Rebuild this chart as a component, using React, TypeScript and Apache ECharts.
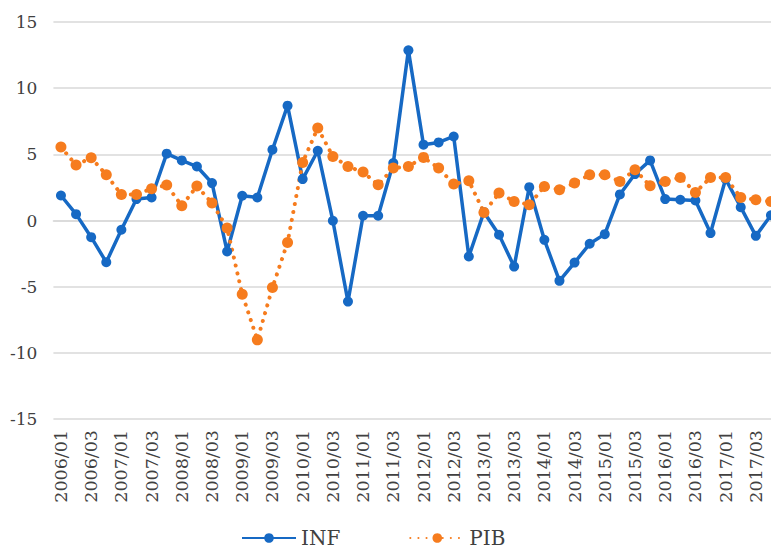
import React, { useEffect, useRef } from "react";
import * as echarts from "echarts";

const categories: string[] = [
  "2006/01", "2006/02", "2006/03", "2006/04",
  "2007/01", "2007/02", "2007/03", "2007/04",
  "2008/01", "2008/02", "2008/03", "2008/04",
  "2009/01", "2009/02", "2009/03", "2009/04",
  "2010/01", "2010/02", "2010/03", "2010/04",
  "2011/01", "2011/02", "2011/03", "2011/04",
  "2012/01", "2012/02", "2012/03", "2012/04",
  "2013/01", "2013/02", "2013/03", "2013/04",
  "2014/01", "2014/02", "2014/03", "2014/04",
  "2015/01", "2015/02", "2015/03", "2015/04",
  "2016/01", "2016/02", "2016/03", "2016/04",
  "2017/01", "2017/02", "2017/03", "2017/04",
];

const infValues: number[] = [
  1.89, 0.48, -1.26, -3.15, -0.7, 1.62, 1.74, 5.05, 4.54, 4.08, 2.83, -2.34,
  1.87, 1.74, 5.35, 8.68, 3.13, 5.27, -0.02, -6.13, 0.36, 0.36, 4.34, 12.86,
  5.73, 5.9, 6.35, -2.72, 0.63, -1.08, -3.48, 2.52, -1.46, -4.56, -3.18, -1.76,
  -1.03, 1.97, 3.51, 4.54, 1.62, 1.57, 1.51, -0.95, 3.13, 1.01, -1.16, 0.4,
];

const pibValues: number[] = [
  5.55, 4.19, 4.74, 3.46, 1.97, 1.97, 2.4, 2.68, 1.11, 2.6, 1.32, -0.57,
  -5.57, -9.02, -5.07, -1.66, 4.39, 6.99, 4.84, 4.08, 3.66, 2.7, 3.96, 4.08,
  4.77, 3.96, 2.75, 3.0, 0.61, 2.07, 1.44, 1.19, 2.57, 2.32, 2.83, 3.46,
  3.46, 2.95, 3.83, 2.62, 2.95, 3.25, 2.12, 3.25, 3.25, 1.74, 1.57, 1.44,
];

const seriesNames: string[] = ["INF", "PIB"];

const CHART_W = 790;
const CHART_H = 552;

export default function App() {
  const ref = useRef<HTMLDivElement>(null);

  useEffect(() => {
    if (!ref.current) return;
    const chart = echarts.init(ref.current, undefined, { renderer: "svg" });
    const font = "DejaVu Serif";
    chart.setOption({
      animation: false,
      backgroundColor: "#ffffff",
      textStyle: { fontFamily: font },
      grid: {
        left: 53.4,
        right: CHART_W - 778.5,
        top: 22,
        bottom: CHART_H - 419,
        containLabel: false,
      },
      legend: {
        data: seriesNames,
        left: 236,
        top: 522,
        itemWidth: 54,
        itemHeight: 12,
        itemGap: 69,
        textStyle: {
          fontFamily: font,
          fontSize: 20,
          lineHeight: 22,
          color: "#404040",
        },
      },
      xAxis: {
        type: "category",
        data: categories,
        boundaryGap: true,
        axisTick: { show: false },
        axisLine: { show: true, lineStyle: { color: "#d9d9d9", width: 1.5 } },
        axisLabel: {
          interval: 1,
          rotate: 90,
          margin: 11,
          fontFamily: font,
          fontSize: 17.5,
          color: "#404040",
        },
      },
      yAxis: {
        type: "value",
        min: -15,
        max: 15,
        interval: 5,
        axisLine: { show: false },
        axisTick: { show: false },
        splitLine: { lineStyle: { color: "#d9d9d9", width: 1.5 } },
        axisLabel: {
          margin: 16,
          fontFamily: font,
          fontSize: 17,
          color: "#404040",
        },
      },
      series: [
        {
          name: seriesNames[0],
          type: "line",
          data: infValues,
          symbol: "circle",
          symbolSize: 10,
          showSymbol: true,
          showAllSymbol: true,
          itemStyle: { color: "#1669c4" },
          lineStyle: { color: "#1669c4", width: 3.5 },
        },
        {
          name: seriesNames[1],
          type: "line",
          data: pibValues,
          symbol: "circle",
          symbolSize: 11,
          showSymbol: true,
          showAllSymbol: true,
          itemStyle: { color: "#f67c1e" },
          lineStyle: {
            color: "#f67c1e",
            width: 4,
            type: [0.1, 8],
            cap: "round",
          },
        },
      ],
    });
    return () => chart.dispose();
  }, []);

  return (
    <div
      style={{
        position: "fixed",
        left: 0,
        top: 0,
        width: 771,
        height: 552,
        overflow: "hidden",
        background: "#fff",
      }}
    >
      <div ref={ref} style={{ width: CHART_W, height: CHART_H }} />
    </div>
  );
}
